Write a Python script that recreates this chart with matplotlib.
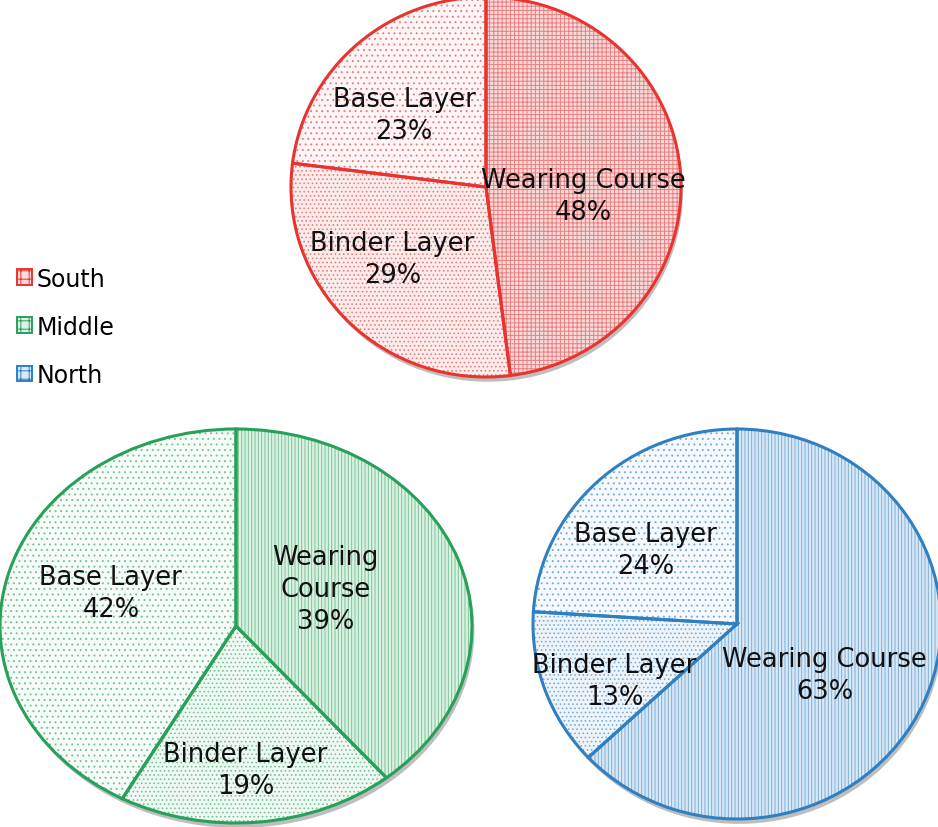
import matplotlib.pyplot as plt
from matplotlib.patches import Patch, Ellipse

plt.rcParams['hatch.linewidth'] = 0.7

# slice order runs clockwise from 12 o'clock
layers = ['Wearing Course', 'Binder Layer', 'Base Layer']
south = [48, 29, 23]
middle = [39, 19, 42]
north = [63, 13, 24]
regions = ['South', 'Middle', 'North']

W, H = 938, 828

# region style: edge, hatch colour, light fill per slice
styles = {
    'South': dict(edge='#e8332f', hatch='#e88080',
                  faces=['#f8dada', '#fcecec', '#fef6f6'],
                  hatches=['++++', '....', '...']),
    'Middle': dict(edge='#27a05a', hatch='#78c495',
                   faces=['#ddf1e4', '#eff8f2', '#f7fcf9'],
                   hatches=['|||||', '....', '...']),
    'North': dict(edge='#2f7fc1', hatch='#7aaed8',
                  faces=['#dae9f5', '#eef4fa', '#f6f9fd'],
                  hatches=['|||||', '....', '...']),
}

# pixel centre and radii of each pie
geometry = {
    'South': (486, 188, 195, 190),
    'Middle': (236, 627, 236, 197),
    'North': (737, 625, 204, 195),
}

# label positions in pie-radius units
label_pos = {
    'South': [(0.50, -0.05), (-0.48, -0.38), (-0.42, 0.38)],
    'Middle': [(0.38, 0.19), (0.04, -0.73), (-0.53, 0.17)],
    'North': [(0.43, -0.26), (-0.60, -0.29), (-0.45, 0.38)],
}

data = {'South': south, 'Middle': middle, 'North': north}

fig = plt.figure(figsize=(W / 100, H / 100), dpi=100)

for reg in regions:
    cx, cy, rx, ry = geometry[reg]
    st = styles[reg]
    ax = fig.add_axes([(cx - rx) / W, (H - cy - ry) / H, 2 * rx / W, 2 * ry / H])

    # darker rim underneath for a slight tilted-disc look
    ax.add_patch(Ellipse((0.01, -0.025), 2.0, 2.0, facecolor='#8a8a8a',
                         edgecolor='none', alpha=0.55, zorder=0, clip_on=False))

    wedges, _ = ax.pie(data[reg], startangle=90, counterclock=False,
                       colors=st['faces'],
                       wedgeprops=dict(linewidth=0, edgecolor=st['hatch']))
    for w, h in zip(wedges, st['hatches']):
        w.set_hatch(h)
        w.set_clip_on(False)
        w.set_zorder(1)

    outline, _ = ax.pie(data[reg], startangle=90, counterclock=False,
                        wedgeprops=dict(fill=False, linewidth=2.2,
                                        edgecolor=st['edge']))
    for w in outline:
        w.set_clip_on(False)
        w.set_zorder(2)

    for name, val, (lx, ly) in zip(layers, data[reg], label_pos[reg]):
        txt = name
        if reg == 'Middle' and name == 'Wearing Course':
            txt = 'Wearing\nCourse'
        ax.text(lx, ly, f'{txt}\n{val}%', ha='center', va='center',
                fontsize=18.5, color='#111111', linespacing=1.3, zorder=3)

    ax.set_aspect('auto')
    ax.set_xlim(-1, 1)
    ax.set_ylim(-1, 1)
    ax.axis('off')

handles = [Patch(facecolor=styles[r]['faces'][0], edgecolor=styles[r]['edge'],
                 hatch='++', linewidth=1.4) for r in regions]
fig.legend(handles, regions, loc='upper left', bbox_to_anchor=(0.0, 1 - 251 / H),
           frameon=False, fontsize=17, handlelength=0.65, handleheight=0.65,
           handletextpad=0.2, labelspacing=1.02, borderaxespad=0.3)

fig.savefig('out.png', dpi=100, facecolor='white')
